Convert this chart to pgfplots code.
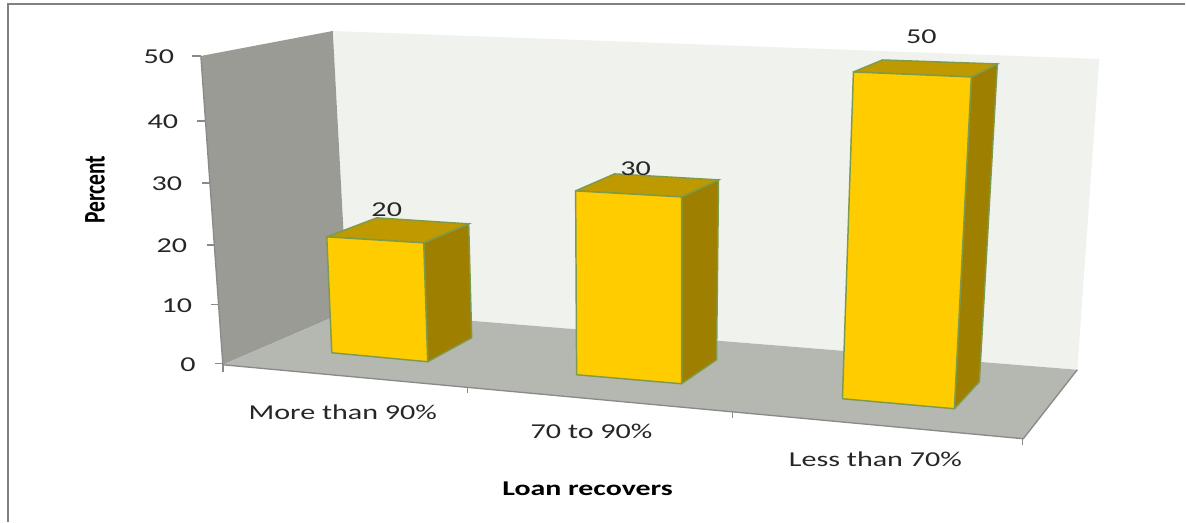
\documentclass[border=0pt]{standalone}
\usepackage{fontspec}
\usepackage{pgfplots}
\pgfplotsset{compat=1.18}
\setmainfont{Carlito}
\newfontfamily\lab[FakeStretch=1.42]{Carlito}
\newfontfamily\titlelab[FakeStretch=1.42]{Carlito Bold}
\newfontfamily\sidelab[FakeStretch=0.72]{Carlito Bold}

\definecolor{frontc}{HTML}{FFCC00}
\definecolor{topc}{HTML}{BF9900}
\definecolor{sidec}{HTML}{9F7F00}
\definecolor{edgec}{HTML}{7F9A4A}
\definecolor{wallL}{HTML}{999B94}
\definecolor{wallB}{HTML}{F0F2ED}
\definecolor{floorc}{HTML}{B5B8B1}
\definecolor{linec}{HTML}{8A8A8A}
\definecolor{framec}{HTML}{808080}
\definecolor{textc}{HTML}{262626}

\tikzset{lbl/.style={text=textc,font=\lab\fontsize{15.9}{18}\selectfont}}

% One box: #1 value, #2..#5 corners front-left, front-right, back-right, back-left
% (each: x and y at zero, then x shift and pixels per percent), #6 #7 label position.
\newcommand{\drawbar}[7]{%
  \addplot[fill=sidec,draw=edgec,line width=1.1pt] table[row sep=\\,
    x expr=\thisrow{x}+\thisrow{d}*\thisrow{h}*#1,
    y expr=\thisrow{y}-\thisrow{k}*\thisrow{h}*#1]
    {x y d k h\\ #3 0\\ #4 0\\ #4 1\\ #3 1\\ #3 0\\};
  \addplot[fill=topc,draw=edgec,line width=1.1pt] table[row sep=\\,
    x expr=\thisrow{x}+\thisrow{d}*\thisrow{h}*#1,
    y expr=\thisrow{y}-\thisrow{k}*\thisrow{h}*#1]
    {x y d k h\\ #2 1\\ #3 1\\ #4 1\\ #5 1\\ #2 1\\};
  \addplot[fill=frontc,draw=edgec,line width=1.1pt] table[row sep=\\,
    x expr=\thisrow{x}+\thisrow{d}*\thisrow{h}*#1,
    y expr=\thisrow{y}-\thisrow{k}*\thisrow{h}*#1]
    {x y d k h\\ #2 0\\ #3 0\\ #3 1\\ #2 1\\ #2 0\\};
  \node[lbl] at (axis cs:#6,#7) {#1};
}

\begin{document}
\begin{tikzpicture}
\begin{axis}[
  scale only axis, width=889.5pt, height=391.5pt,
  xmin=0, xmax=1186, ymin=0, ymax=522, y dir=reverse,
  hide axis, clip=false,
]
% page extent
\path (axis cs:0,0) rectangle (axis cs:1186,522);
% outer frame
\addplot[framec,line width=1.2pt] coordinates {(8,522) (8,4) (1186,4)};

% chart walls and floor
\addplot[fill=wallB,draw=none] coordinates {(333,31) (1100,59) (1078,370) (348,311)};
\addplot[fill=wallL,draw=none] coordinates {(201,56) (333,31) (348,311) (223,365)};
\addplot[linec,line width=1pt] coordinates {(201,56) (223,365)};
\addplot[fill=floorc,draw=none] coordinates {(223,365) (348,311) (1078,370) (1024,439)};
\addplot[linec,line width=1pt] coordinates {(223,365) (1024,439) (1078,370)};

% value axis ticks
\addplot[linec,line width=1pt] coordinates {(192,56) (201,56)};
\addplot[linec,line width=1pt] coordinates {(197,121) (205,121)};
\addplot[linec,line width=1pt] coordinates {(202,183) (210,183)};
\addplot[linec,line width=1pt] coordinates {(207,245) (215,245)};
\addplot[linec,line width=1pt] coordinates {(211,305) (219,305)};
\addplot[linec,line width=1pt] coordinates {(215,364) (223,364)};
% category axis ticks
\addplot[linec,line width=1pt] coordinates {(223,365) (223,372)};
\addplot[linec,line width=1pt] coordinates {(468,388) (468,393)};
\addplot[linec,line width=1pt] coordinates {(733,412) (733,418)};
\addplot[linec,line width=1pt] coordinates {(1023,439) (1023,445)};

% boxes
\drawbar{20}{332 353 -0.25 5.8}{428 362 -0.2 5.95}{472 338 -0.15 5.7}{380 331 -0.15 5.65}{387}{210}
\drawbar{30}{577 375 -0.0333 6.133}{682 384 0 6.233}{717 360 0.0667 6}{615 354 0 6}{636}{169}
\drawbar{50}{843 399 0.22 6.54}{955 409 0.34 6.64}{980 382 0.36 6.36}{873 376 0.2 6.32}{922}{37}

% tick labels
\node[lbl] at (axis cs:159,57) {50};
\node[lbl] at (axis cs:163,122) {40};
\node[lbl] at (axis cs:167,184) {30};
\node[lbl] at (axis cs:172,246) {20};
\node[lbl] at (axis cs:177,306) {10};
\node[lbl] at (axis cs:188,365) {0};
\node[lbl] at (axis cs:343,412) {More than 90\%};
\node[lbl] at (axis cs:592,432) {70 to 90\%};
\node[lbl] at (axis cs:876,460) {Less than 70\%};
\node[text=black,font=\titlelab\fontsize{15.8}{18}\selectfont] at (axis cs:588,489) {Loan recovers};
\node[text=black,rotate=90,font=\sidelab\fontsize{22.5}{24}\selectfont] at (axis cs:95,190) {Percent};
\end{axis}
\end{tikzpicture}
\end{document}
